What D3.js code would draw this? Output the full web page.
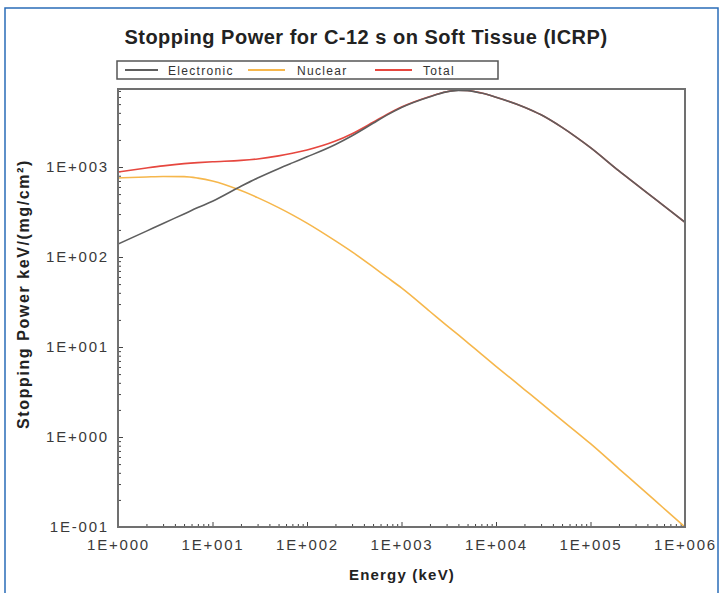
<!DOCTYPE html>
<html>
<head>
<meta charset="utf-8">
<script src="https://cdn.jsdelivr.net/npm/d3@7"></script>
<style>
  html, body { margin: 0; padding: 0; background: #fff; }
  svg { display: block; }
  text { font-family: "Liberation Sans", Arial, sans-serif; }
</style>
</head>
<body>
<svg id="chart" width="720" height="593"></svg>
<script>
"use strict";

// energies (keV)
const energy = [1, 2, 3, 5, 7, 10, 20, 30, 50, 70, 100, 200, 300, 500, 700,
  1e3, 2e3, 3e3, 4e3, 5e3, 7e3, 1e4, 2e4, 3e4, 5e4, 7e4, 1e5, 2e5, 3e5, 5e5, 7e5, 1e6];

// stopping power keV/(mg/cm2)
const electronic = [139, 194, 236, 301, 354, 417, 611, 755, 959, 1112, 1297, 1782, 2228, 3062, 3776,
  4592, 6053, 6839, 7112, 7063, 6637, 5957, 4624, 3802, 2754, 2163, 1641, 904, 649, 428, 325, 243];
const nuclear = [755, 776, 785, 782, 753, 700, 548, 457, 354, 294, 238, 151, 114, 77.6, 59.7,
  45.3, 24.8, 17.4, 13.6, 11.2, 8.34, 6.11, 3.37, 2.38, 1.53, 1.15, 0.843, 0.443, 0.305, 0.19, 0.139, 0.1];
const total = [880, 975, 1030, 1090, 1120, 1145, 1185, 1230, 1330, 1420, 1545, 1940, 2345, 3140, 3836,
  4637, 6078, 6856, 7126, 7074, 6645, 5963, 4627, 3804, 2756, 2164, 1642, 904, 649, 428, 325, 243];

const xTicks = [1, 1e1, 1e2, 1e3, 1e4, 1e5, 1e6];
const yTicks = [1e-1, 1, 1e1, 1e2, 1e3];

const series = [
  { name: 'Total', values: total, color: '#e6473f' },
  { name: 'Nuclear', values: nuclear, color: '#f6b74c' },
  { name: 'Electronic', values: electronic, color: '#5e5e5e' },
];
const legendOrder = ['Electronic', 'Nuclear', 'Total'];

const svg = d3.select('#chart');

// outer page frame
svg.append('rect')
  .attr('x', 5).attr('y', 8).attr('width', 713).attr('height', 600)
  .attr('fill', 'none').attr('stroke', '#2a6cb8').attr('stroke-width', 1.5);

const plot = { left: 118, right: 685, top: 89, bottom: 527 };

const x = d3.scaleLog().domain([1, 1e6]).range([plot.left, plot.right]);
const y = d3.scaleLog().domain([0.1, 7360]).range([plot.bottom, plot.top]);

// minor tick values
function minorTicks(lo, hi) {
  let out = [];
  for (let d = lo; d < hi; d *= 10) {
    for (let k = 2; k <= 9; k++) {
      if (d * k <= hi) out.push(d * k);
    }
  }
  return out;
}

const fmt = (v) => {
  let e = Math.round(Math.log10(v));
  return '1E' + (e < 0 ? '-' : '+') + String(Math.abs(e)).padStart(3, '0');
};

// x axis
const gx = svg.append('g').attr('transform', `translate(0,${plot.bottom})`);
gx.call(d3.axisBottom(x).tickValues(xTicks).tickSize(-5).tickFormat(fmt).tickPadding(12));
gx.append('g').call(d3.axisBottom(x).tickValues(minorTicks(1, 1e6)).tickSize(-3).tickFormat(''));

// y axis
const gy = svg.append('g').attr('transform', `translate(${plot.left},0)`);
gy.call(d3.axisLeft(y).tickValues(yTicks).tickSize(-5).tickFormat(fmt).tickPadding(9));
gy.append('g').call(d3.axisLeft(y).tickValues(minorTicks(0.1, 7360)).tickSize(-3).tickFormat(''));

svg.selectAll('.domain').remove();
svg.selectAll('.tick line').attr('stroke', '#444');
svg.selectAll('.tick text')
  .attr('fill', '#3a3a3a')
  .style('font-size', '15px')
  .style('letter-spacing', '1.8px');

// curves
const line = d3.line()
  .x((d) => x(d[0]))
  .y((d) => y(d[1]))
  .curve(d3.curveMonotoneX);

svg.append('clipPath').attr('id', 'clip')
  .append('rect')
  .attr('x', plot.left).attr('y', plot.top - 2)
  .attr('width', plot.right - plot.left).attr('height', plot.bottom - plot.top + 2);

const curves = svg.append('g').attr('clip-path', 'url(#clip)');
series.forEach((s) => {
  curves.append('path')
    .datum(energy.map((e, i) => [e, s.values[i]]))
    .attr('d', line)
    .attr('fill', 'none')
    .attr('stroke', s.color)
    .attr('stroke-width', 1.6);
});

// plot frame
svg.append('rect')
  .attr('x', plot.left).attr('y', plot.top)
  .attr('width', plot.right - plot.left).attr('height', plot.bottom - plot.top)
  .attr('fill', 'none').attr('stroke', '#707070').attr('stroke-width', 2);

// title
svg.append('text')
  .attr('x', 366).attr('y', 44)
  .attr('text-anchor', 'middle')
  .attr('fill', '#222')
  .style('font-size', '20px').style('font-weight', 'bold')
  .style('letter-spacing', '0.5px')
  .text('Stopping Power for C-12 s on Soft Tissue (ICRP)');

// legend
const legend = svg.append('g');
legend.append('rect')
  .attr('x', 117).attr('y', 61).attr('width', 381).attr('height', 18)
  .attr('fill', '#fff').attr('stroke', '#555').attr('stroke-width', 1.5);

const legendPos = [
  { line: [125, 158], text: 168 },
  { line: [248, 285], text: 297 },
  { line: [375, 412], text: 423 },
];
legendOrder.forEach((name, i) => {
  let s = series.find((d) => d.name === name);
  let p = legendPos[i];
  legend.append('line')
    .attr('x1', p.line[0]).attr('x2', p.line[1])
    .attr('y1', 70).attr('y2', 70)
    .attr('stroke', s.color).attr('stroke-width', 1.8);
  legend.append('text')
    .attr('x', p.text).attr('y', 74.5)
    .attr('fill', '#333')
    .style('font-size', '12px')
    .style('letter-spacing', '1.3px')
    .text(name);
});

// axis titles
svg.append('text')
  .attr('x', 402).attr('y', 580)
  .attr('text-anchor', 'middle')
  .attr('fill', '#222')
  .style('font-size', '15px').style('font-weight', 'bold')
  .style('letter-spacing', '1.2px')
  .text('Energy (keV)');

svg.append('text')
  .attr('transform', 'translate(29,294) rotate(-90)')
  .attr('text-anchor', 'middle')
  .attr('fill', '#222')
  .style('font-size', '16px').style('font-weight', 'bold')
  .style('letter-spacing', '1.6px')
  .text('Stopping Power keV/(mg/cm²)');
</script>
</body>
</html>
